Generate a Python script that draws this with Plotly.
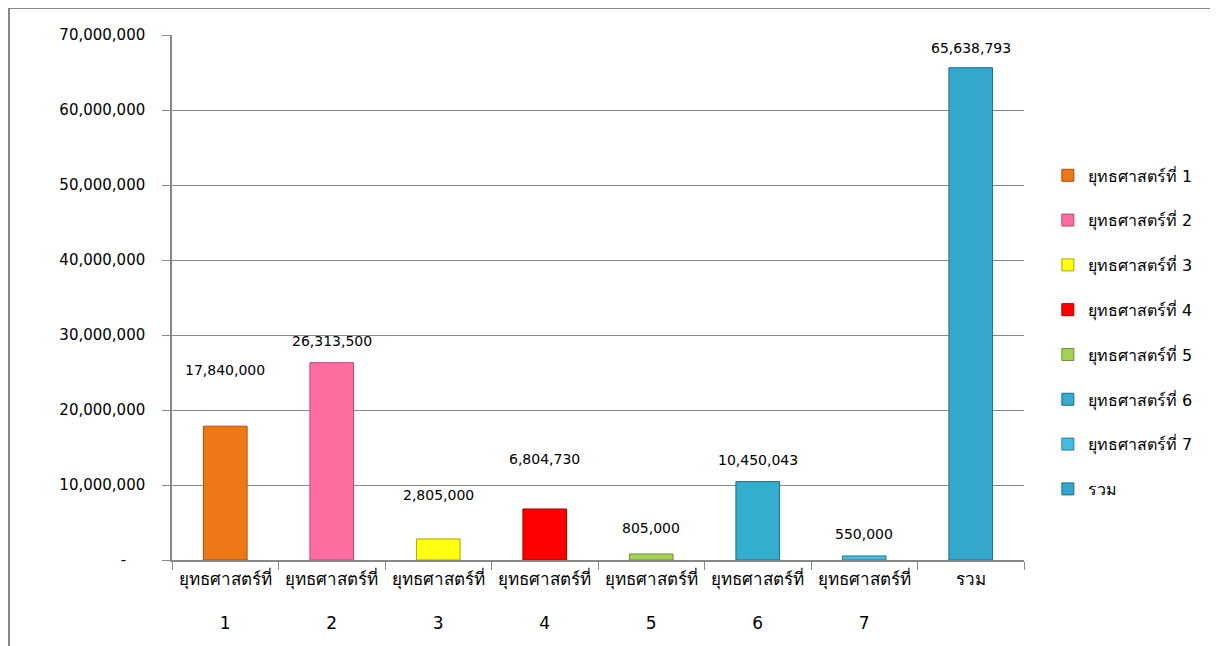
import plotly.graph_objects as go

categories = ["ยุทธศาสตร์ที่ 1", "ยุทธศาสตร์ที่ 2", "ยุทธศาสตร์ที่ 3", "ยุทธศาสตร์ที่ 4",
              "ยุทธศาสตร์ที่ 5", "ยุทธศาสตร์ที่ 6", "ยุทธศาสตร์ที่ 7", "รวม"]
axis_labels = ["ยุทธศาสตร์ที่<br> <br>1", "ยุทธศาสตร์ที่<br> <br>2", "ยุทธศาสตร์ที่<br> <br>3",
               "ยุทธศาสตร์ที่<br> <br>4", "ยุทธศาสตร์ที่<br> <br>5", "ยุทธศาสตร์ที่<br> <br>6",
               "ยุทธศาสตร์ที่<br> <br>7", "รวม"]
values = [17840000, 26313500, 2805000, 6804730, 805000, 10450043, 550000, 65638793]
colors = ["#EE7614", "#FF6C9F", "#FFFF10", "#FF0000", "#A5D155", "#33AECF", "#45BBDD", "#33A8CC"]
line_colors = ["#A5500A", "#B84A72", "#A8A800", "#A80000", "#6E9038", "#1E6F86", "#2A7F98", "#1E6F86"]
label_shift = [56, 22, 44, 50, 26, 22, 22, 20]  # pixel offset of value labels above bar tops
tick_vals = [0, 10000000, 20000000, 30000000, 40000000, 50000000, 60000000, 70000000]
tick_text = ["-\u00a0\u00a0\u00a0\u00a0", "10,000,000", "20,000,000", "30,000,000", "40,000,000",
             "50,000,000", "60,000,000", "70,000,000"]

FONT = "Tahoma, 'DejaVu Sans', 'Noto Sans', sans-serif"

fig = go.Figure()
for i, (cat, val) in enumerate(zip(categories, values)):
    fig.add_trace(go.Bar(
        x=[axis_labels[i]], y=[val], name=cat, legendgroup=cat,
        marker=dict(color=colors[i], line=dict(color=line_colors[i], width=1)),
        width=0.41, hoverinfo="y",
    ))
    fig.add_annotation(x=axis_labels[i], y=val, text=f"{val:,}", showarrow=False,
                       yshift=label_shift[i], font=dict(size=14, color="#000", family=FONT))

fig.update_layout(
    width=1218, height=646,
    barmode="overlay",
    margin=dict(l=164, r=202, t=27, b=94),
    paper_bgcolor="white", plot_bgcolor="white",
    font=dict(family=FONT, size=15, color="#000"),
    showlegend=True,
    legend=dict(x=1.028, y=0.765, xanchor="left", yanchor="top",
                font=dict(size=16, family=FONT), tracegroupgap=21,
                itemwidth=30, traceorder="grouped"),
    xaxis=dict(type="category", categoryorder="array", categoryarray=axis_labels,
               showline=True, linecolor="#888", linewidth=1.5,
               ticks="outside", ticklen=8, tickcolor="#888", tickson="boundaries",
               showgrid=False, tickfont=dict(size=17, family=FONT), fixedrange=True,
               ticklabelstandoff=3),
    yaxis=dict(range=[0, 70000000], tickvals=tick_vals, ticktext=tick_text,
               showline=True, linecolor="#888", linewidth=1.5,
               ticks="outside", ticklen=8, tickcolor="#888",
               showgrid=True, gridcolor="#888", gridwidth=1.2,
               zeroline=False, tickfont=dict(size=15, family=FONT), ticklabelstandoff=14),
    shapes=[dict(type="rect", xref="paper", yref="paper",
                 x0=(1 - 164) / 852, x1=(1230 - 172) / 852,
                 y0=(560 - 660) / 525, y1=(560 - 8) / 525,
                 line=dict(color="#888", width=2), fillcolor="rgba(0,0,0,0)", layer="below")],
)

fig.write_html("out.html")
